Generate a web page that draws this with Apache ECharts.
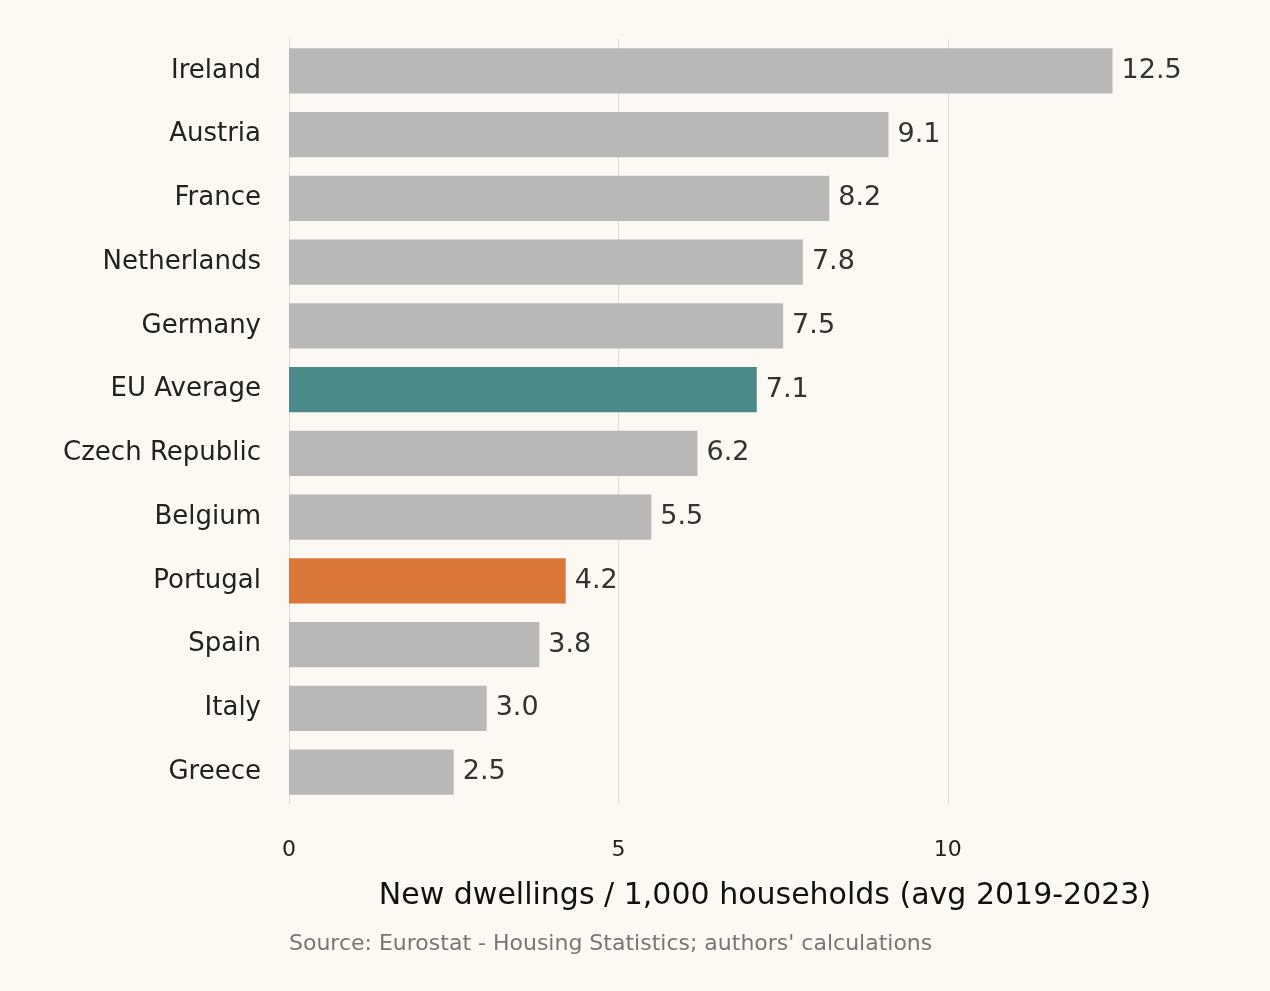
<!DOCTYPE html>
<html>
<head>
<meta charset="utf-8">
<script src="https://cdn.jsdelivr.net/npm/echarts@6/dist/echarts.min.js"></script>
<style>
  html, body { margin: 0; padding: 0; background: #fcf9f5; }
  #chart { width: 1270px; height: 991px; }
</style>
</head>
<body>
<div id="chart"></div>
<script>
// countries listed bottom to top (category axis starts at bottom)
const countries = ['Greece', 'Italy', 'Spain', 'Portugal', 'Belgium', 'Czech Republic',
    'EU Average', 'Germany', 'Netherlands', 'France', 'Austria', 'Ireland']
const dwellings = [2.5, 3.0, 3.8, 4.2, 5.5, 6.2, 7.1, 7.5, 7.8, 8.2, 9.1, 12.5]
const xTicks = [0, 5, 10]

const greyColor = '#b8b8b8'
const highlight = {
    'EU Average': '#4a8b8a',
    'Portugal': '#dc773a'
}
const fontFamily = '"DejaVu Sans", "Noto Sans", sans-serif'

let chart = echarts.init(document.getElementById('chart'))

chart.setOption({
    backgroundColor: '#fcf9f5',
    textStyle: { fontFamily: fontFamily },
    grid: {
        left: 289,
        right: 29,
        top: 39,
        bottom: 187
    },
    xAxis: {
        type: 'value',
        min: 0,
        max: 14.45,
        interval: 5,
        axisLine: { show: false },
        axisTick: { show: false },
        axisLabel: {
            fontSize: 22,
            color: '#222',
            margin: 35,
            showMaxLabel: false,
            formatter: v => xTicks.indexOf(v) >= 0 ? String(v) : ''
        },
        splitLine: { showMaxLine: false, lineStyle: { color: '#dedbd7', width: 1 } },
        name: 'New dwellings / 1,000 households (avg 2019-2023)',
        nameLocation: 'middle',
        nameGap: 77,
        nameTextStyle: { fontSize: 30, color: '#111', fontFamily: fontFamily }
    },
    yAxis: {
        type: 'category',
        data: countries,
        axisLine: { show: false },
        axisTick: { show: false },
        axisLabel: { fontSize: 26, color: '#222', margin: 28 }
    },
    series: [{
        type: 'bar',
        barWidth: '71%',
        data: dwellings.map((v, i) => ({
            value: v,
            itemStyle: { color: highlight[countries[i]] || greyColor }
        })),
        label: {
            show: true,
            position: 'right',
            distance: 9,
            fontSize: 27,
            color: '#333',
            formatter: p => p.value.toFixed(1)
        }
    }],
    graphic: [{
        type: 'text',
        left: 289,
        top: 933,
        style: {
            text: "Source: Eurostat - Housing Statistics; authors' calculations",
            fontSize: 22,
            fill: '#777',
            fontFamily: fontFamily
        }
    }]
})
</script>
</body>
</html>
